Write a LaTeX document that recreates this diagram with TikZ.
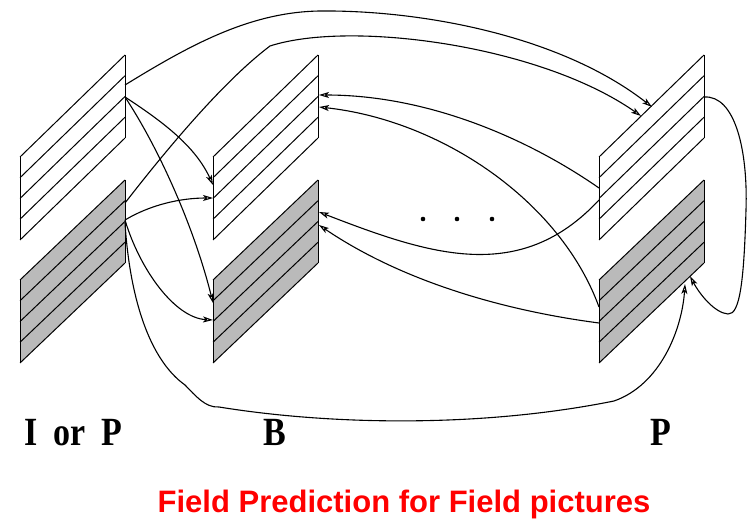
\documentclass[tikz,border=0pt]{standalone}
\usepackage{fontspec}
\setmainfont{Liberation Serif}
\newfontfamily\titlefont{Liberation Sans}
\usetikzlibrary{arrows.meta}
\tikzset{
  stripe/.style={line width=1pt, black},
  shade/.style={fill=black!27},
  link/.style={line width=1.1pt, black},
  arr/.style={link, -{Stealth[length=10pt,width=6pt,inset=2.5pt,open]}},
  lbl/.style={inner sep=0pt, font=\bfseries\fontsize{40}{44}\selectfont},
  ttl/.style={inner sep=0pt, text=red, font=\titlefont\bfseries\fontsize{31}{36}\selectfont},
  dot/.style={fill=black}
}
\newcommand\fieldstack[1]{%
  \begin{scope}[shift={(#1,0)}]
    \fill[shade] (0,280) -- (105,180) -- (105,263) -- (0,363) -- cycle;
    \foreach \k in {0,...,4} {
      \draw[stripe] (0,{157+20.75*\k}) -- (105,{55+20.75*\k});
      \draw[stripe] (0,{280+20.75*\k}) -- (105,{180+20.75*\k});
    }
    \draw[stripe] (0,157) -- (0,240);
    \draw[stripe] (105,55) -- (105,138);
    \draw[stripe] (0,280) -- (0,363);
    \draw[stripe] (105,180) -- (105,263);
  \end{scope}}
\begin{document}
\begin{tikzpicture}[x=1pt,y=-1pt]
\useasboundingbox (0,0) rectangle (753,521);
% field stacks
\fieldstack{20}
\fieldstack{213}
\fieldstack{599}
% connection points: left stack (I or P)
\coordinate (LT1) at (125,85);
\coordinate (LT2) at (125,97);
\coordinate (LB1) at (125,203);
\coordinate (LB2) at (125,220);
\coordinate (LB3) at (125,223);
% middle stack (B)
\coordinate (BTl1) at (213,185);
\coordinate (BTl2) at (213,198);
\coordinate (BBl1) at (213,303);
\coordinate (BBl2) at (213,320);
\coordinate (BTr1) at (319,95);
\coordinate (BTr2) at (319,107);
\coordinate (BBr1) at (319,212);
\coordinate (BBr2) at (319,225);
% right stack (P)
\coordinate (PTl1) at (599,188);
\coordinate (PTl2) at (599,200);
\coordinate (PBl1) at (599,307);
\coordinate (PBl2) at (599,323);
\coordinate (PTt1) at (652,107);
\coordinate (PTt2) at (641,116);
\coordinate (PTr) at (704,97);
\coordinate (PBb1) at (690,276);
\coordinate (PBb2) at (685,284);
% forward from I/P to B
\draw[arr] (LT2) .. controls (160,120) and (195,145) .. (BTl1);
\draw[arr] (LT2) .. controls (160,150) and (195,230) .. (BBl1);
\draw[arr] (LB2) .. controls (150,205) and (180,198) .. (BTl2);
\draw[arr] (LB2) .. controls (140,270) and (175,318) .. (BBl2);
% forward from I/P to P
\draw[arr] (LT1) .. controls (190,45) and (250,12) .. (320,11)
  .. controls (420,10) and (560,35) .. (PTt1);
\draw[arr] (LB1) .. controls (170,145) and (225,80) .. (270,46)
  .. controls (350,20) and (540,45) .. (PTt2);
\draw[arr] (LB3) .. controls (130,300) and (150,360) .. (185,385)
  .. controls (195,395) and (205,408) .. (219,407)
  .. controls (330,425) and (480,428) .. (614,401)
  .. controls (660,385) and (682,330) .. (PBb2);
% P top field to P bottom field
\draw[arr] (PTr) .. controls (735,95) and (748,150) .. (746,210)
  .. controls (744,280) and (740,315) .. (728,314)
  .. controls (715,313) and (700,295) .. (PBb1);
% backward from P to B
\draw[arr] (PTl1) .. controls (530,140) and (430,95) .. (BTr1);
\draw[arr] (PBl1) .. controls (560,200) and (440,120) .. (BTr2);
\draw[arr] (PTl2) .. controls (520,285) and (430,255) .. (BBr1);
\draw[arr] (PBl2) .. controls (500,310) and (400,280) .. (BBr2);
% dots
\fill[dot] (423,219) circle (2.3);
\fill[dot] (457,219) circle (2.3);
\fill[dot] (492,219) circle (2.3);
% labels
\node[lbl, anchor=base] (lIP) at (73.5,446) {\scalebox{0.85}[1]{I\hspace{19pt}or\hspace{19pt}P}};
\node[lbl, anchor=base] (lB) at (275,446) {\scalebox{0.85}[1]{B}};
\node[lbl, anchor=base] (lP) at (661,446) {\scalebox{0.85}[1]{P}};
\node[ttl, anchor=base] (title) at (404,512) {Field Prediction for Field pictures};
\end{tikzpicture}
\end{document}
